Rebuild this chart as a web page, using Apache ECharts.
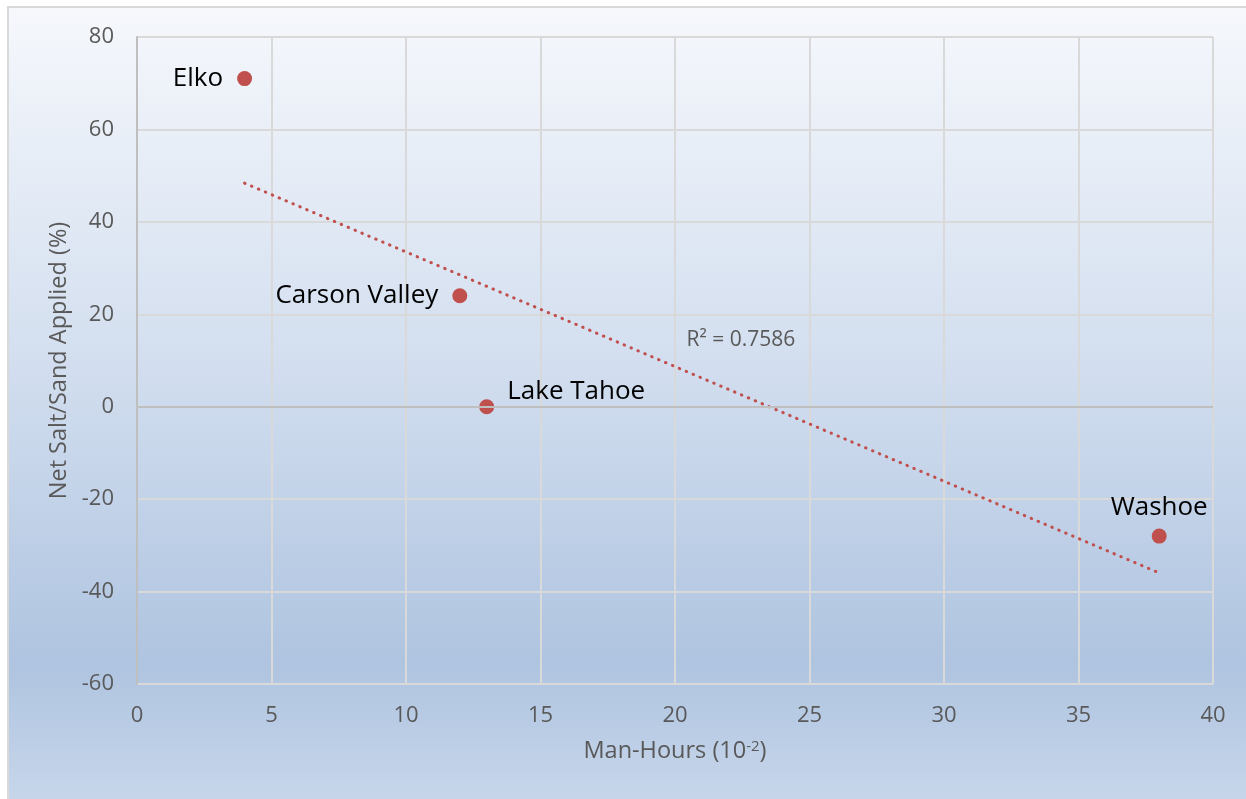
<!DOCTYPE html>
<html>
<head>
<meta charset="utf-8">
<script src="https://cdn.jsdelivr.net/npm/echarts@6/dist/echarts.min.js"></script>
<style>
  html, body { margin: 0; padding: 0; background: #ffffff; }
  #chart { width: 1246px; height: 799px; }
</style>
</head>
<body>
<div id="chart"></div>
<script>
// Districts and their measurements
const districts = ['Elko', 'Carson Valley', 'Lake Tahoe', 'Washoe'];
const manHours = [4, 12, 13, 38];          // ×10^-2
const netSaltSand = [71, 24, 0, -28];      // %

const xTicks = { min: 0, max: 40, interval: 5 };
const yTicks = { min: -60, max: 80, interval: 20 };

// Where each district's name sits relative to its dot
const labelPlacement = [
  { position: 'left', distance: 14 },
  { position: 'left', distance: 14 },
  { position: 'right', distance: 13, offset: [0, -15] },
  { position: 'top', distance: 8 }
];

// Least-squares linear trend over the points
function linearFit(xs, ys) {
  const n = xs.length;
  const mx = xs.reduce((a, b) => a + b, 0) / n;
  const my = ys.reduce((a, b) => a + b, 0) / n;
  let sxx = 0, sxy = 0, syy = 0;
  for (let i = 0; i < n; i++) {
    sxx += (xs[i] - mx) ** 2;
    sxy += (xs[i] - mx) * (ys[i] - my);
    syy += (ys[i] - my) ** 2;
  }
  const slope = sxy / sxx;
  return { slope, intercept: my - slope * mx, r2: (sxy * sxy) / (sxx * syy) };
}
const fit = linearFit(manHours, netSaltSand);
const xLo = Math.min(...manHours), xHi = Math.max(...manHours);
const trend = [
  [xLo, fit.intercept + fit.slope * xLo],
  [xHi, fit.intercept + fit.slope * xHi]
];

const points = districts.map((name, i) => ({
  name,
  value: [manHours[i], netSaltSand[i]],
  label: labelPlacement[i]
}));

const FONT = '"Open Sans", "Noto Sans", sans-serif';
const GREY = '#595959';
const chart = echarts.init(document.getElementById('chart'));

chart.setOption({
  animation: false,
  backgroundColor: 'transparent',
  graphic: [{
    type: 'rect',
    z: -10,
    shape: { x: 8, y: 7, width: 1250, height: 800 },
    style: {
      fill: {
        type: 'linear', x: 0, y: 0, x2: 0, y2: 1,
        colorStops: [
          { offset: 0, color: '#f6f8fc' },
          { offset: 0.45, color: '#d2deef' },
          { offset: 0.82, color: '#afc4e0' },
          { offset: 1, color: '#c8d7eb' }
        ]
      },
      stroke: '#d9d9d9',
      lineWidth: 2
    }
  }],
  grid: { left: 137, right: 33, top: 37, bottom: 115 },
  xAxis: {
    type: 'value',
    min: xTicks.min, max: xTicks.max, interval: xTicks.interval,
    name: 'Man-Hours (10{sup|-2})',
    nameLocation: 'middle',
    nameGap: 55,
    nameTextStyle: {
      fontFamily: FONT, fontSize: 23.5, color: GREY,
      rich: {
        sup: { fontFamily: FONT, fontSize: 15, color: GREY, verticalAlign: 'top', padding: [0, 0, 10, 0] }
      }
    },
    axisLine: { show: false },
    axisTick: { show: false },
    axisLabel: { fontFamily: FONT, fontSize: 22, color: GREY, margin: 21 },
    splitLine: { show: true, lineStyle: { color: '#d9d9d9', width: 2 } }
  },
  yAxis: {
    type: 'value',
    min: yTicks.min, max: yTicks.max, interval: yTicks.interval,
    name: 'Net Salt/Sand Applied (%)',
    nameLocation: 'middle',
    nameGap: 62,
    nameTextStyle: { fontFamily: FONT, fontSize: 23.5, color: GREY },
    axisLine: { show: true, onZero: false, lineStyle: { color: '#bfbfbf', width: 2 } },
    axisTick: { show: false },
    axisLabel: { fontFamily: FONT, fontSize: 22, color: GREY, margin: 23 },
    splitLine: { show: true, lineStyle: { color: '#d9d9d9', width: 2 } }
  },
  series: [
    {
      type: 'line',
      data: trend,
      symbol: 'none',
      silent: true,
      z: 2,
      lineStyle: { color: '#c0504d', width: 3, type: [0.5, 7], cap: 'round' },
      markLine: {
        silent: true,
        symbol: 'none',
        label: { show: false },
        lineStyle: { color: '#bfbfbf', width: 2, type: 'solid' },
        data: [{ yAxis: 0 }]
      },
      markPoint: {
        silent: true,
        symbol: 'circle',
        symbolSize: 0,
        label: {
          show: true,
          formatter: 'R² = ' + fit.r2.toFixed(4),
          fontFamily: FONT, fontSize: 21, color: GREY
        },
        data: [{ coord: [22.45, 14.5] }]
      }
    },
    {
      type: 'scatter',
      data: points,
      symbol: 'circle',
      symbolSize: 15,
      z: 3,
      itemStyle: { color: '#c0504d', opacity: 1 },
      label: {
        show: true,
        formatter: p => p.name,
        fontFamily: FONT, fontSize: 26, color: '#000000'
      }
    }
  ]
});
</script>
</body>
</html>
